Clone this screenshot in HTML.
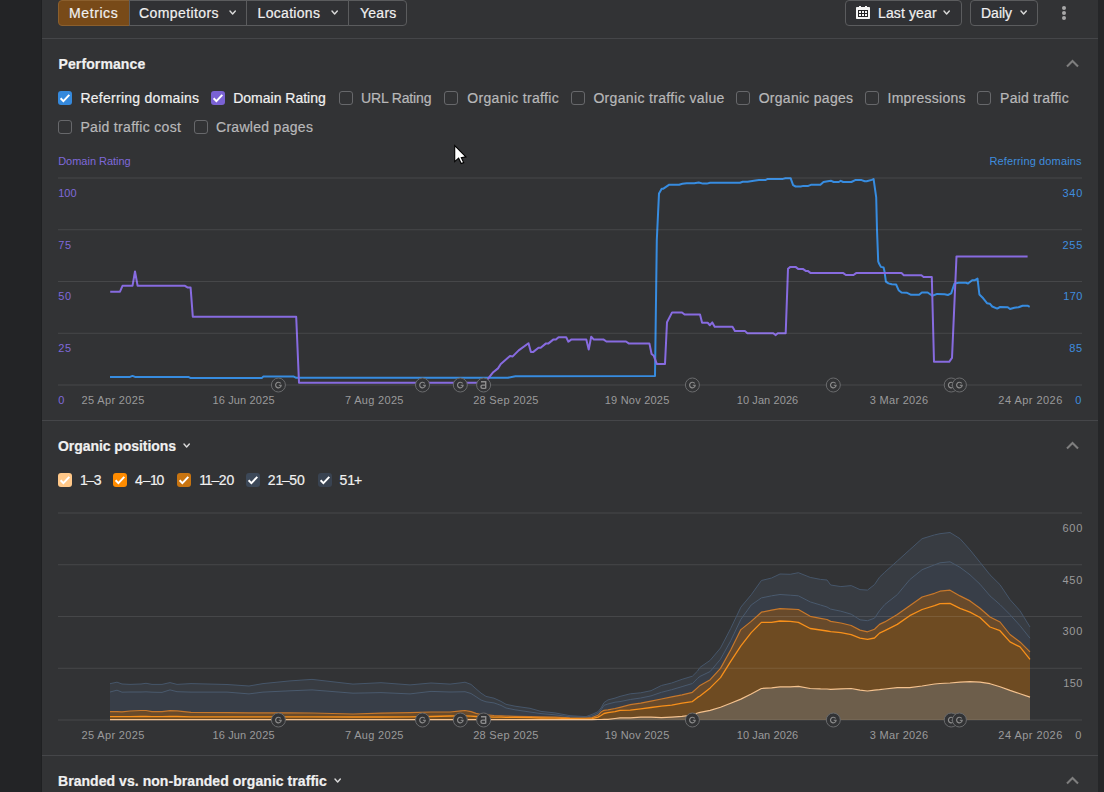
<!DOCTYPE html>
<html><head><meta charset="utf-8"><style>
*{margin:0;padding:0;box-sizing:border-box}
html,body{width:1104px;height:792px;overflow:hidden;background:#232426;font-family:"Liberation Sans",sans-serif}
#main{position:absolute;left:42px;top:0;width:1056px;height:792px;background:#323335}
#rs{position:absolute;left:1098px;top:0;width:6px;height:792px;background:#252628}
#ls{position:absolute;left:41px;top:0;width:1px;height:792px;background:#1f2022}
.t{position:absolute;white-space:nowrap;line-height:1}
.hr{position:absolute;left:42px;width:1056px;height:1px;background:#454649}
.btn{position:absolute;top:0;height:26px;border:1px solid #5b5c5e;background:#303134}
.cb{position:absolute;width:14px;height:14px;border-radius:3px}
.cbu{border:1px solid #67686b}
</style></head>
<body>
<div id="main"></div><div id="ls"></div><div id="rs"></div>
<svg style="position:absolute;left:0;top:0" width="1104" height="792">
<polyline points="110.0,376.9 130.0,376.9 132.5,375.9 135.0,376.9 188.3,376.9 190.3,377.9 262.0,377.9 263.2,376.6 293.8,376.6 296.2,377.8 507.8,377.8 515.4,376.3 655.0,376.1 656.8,240.0 659.0,193.4 661.7,188.7 663.4,188.7 669.3,184.7 679.1,184.7 682.4,183.8 686.7,183.3 694.3,183.3 698.7,182.5 703.0,183.6 706.8,183.6 710.1,182.7 740.0,182.7 742.7,181.7 747.6,181.7 753.8,180.8 758.9,180.1 765.2,180.1 767.8,178.9 783.0,178.9 785.5,178.2 790.6,178.2 793.1,185.2 795.6,186.5 800.7,186.5 803.3,185.9 808.3,185.9 810.9,184.8 820.4,184.8 823.5,182.0 829.3,181.0 831.2,180.8 833.7,182.0 838.8,182.0 840.7,180.8 843.2,182.0 851.4,182.0 855.2,180.1 861.6,180.1 864.8,181.3 866.7,181.3 871.7,179.9 873.6,179.1 876.2,197.3 877.0,230.0 878.2,261.3 879.3,264.1 881.0,266.9 883.6,267.5 884.4,270.9 885.9,281.7 888.4,283.4 891.8,284.3 896.1,284.5 898.6,290.2 901.5,292.5 906.6,292.7 911.1,294.8 919.1,294.8 921.9,292.5 927.6,292.5 932.3,295.8 937.2,293.9 944.6,294.2 947.9,295.0 951.2,293.4 954.5,283.5 958.6,282.7 966.0,282.7 968.0,283.5 972.2,280.2 975.0,280.2 977.5,278.6 979.4,294.5 983.2,298.3 987.0,303.2 989.8,303.7 992.2,306.5 997.2,308.6 1000.1,307.0 1007.8,307.3 1010.0,309.0 1014.4,307.8 1018.5,307.3 1022.6,305.7 1027.6,305.7 1029.7,306.8" fill="none" stroke="#378ce0" stroke-width="2" stroke-linejoin="round"/>
<polyline points="110.2,291.7 120.0,291.7 122.5,285.8 132.5,285.8 135.0,271.5 137.6,285.8 185.0,285.8 187.8,287.6 190.6,287.6 192.8,316.7 296.2,316.7 299.0,382.8 484.5,382.8 487.7,379.2 493.2,372.2 498.0,368.4 500.8,364.0 510.0,355.9 512.7,356.4 518.7,350.4 528.5,343.2 530.9,352.1 533.0,352.1 538.5,347.7 540.7,347.7 546.0,343.4 548.5,343.4 553.2,339.6 555.9,339.6 558.6,337.2 566.2,337.2 568.4,341.7 571.1,339.6 586.3,339.6 588.7,349.6 591.2,336.8 593.9,339.6 603.7,339.6 606.4,341.5 626.0,341.5 628.7,343.4 649.4,343.4 651.6,354.0 653.8,355.8 656.8,363.9 665.0,363.9 667.0,322.2 672.1,312.4 682.0,312.4 684.6,314.6 700.0,314.6 702.1,322.8 707.7,322.8 709.9,325.2 712.3,322.4 714.7,326.7 732.5,326.7 734.9,331.1 745.1,331.1 747.4,333.3 773.3,333.3 775.5,335.1 777.8,333.3 785.7,333.3 788.0,268.8 790.4,266.9 795.5,266.9 798.1,268.9 802.8,268.9 805.7,270.9 807.8,270.9 810.7,273.1 843.3,273.1 845.9,275.0 853.5,275.0 856.1,273.1 901.5,273.1 903.8,275.2 921.4,275.2 923.6,277.0 931.8,277.0 934.0,361.8 949.2,361.8 952.0,357.9 956.5,256.4 1027.6,256.4" fill="none" stroke="#876be0" stroke-width="2" stroke-linejoin="round"/>
<rect x="58" y="177.50" width="1024" height="1" fill="rgba(255,255,255,0.10)"/>
<rect x="58" y="229.25" width="1024" height="1" fill="rgba(255,255,255,0.10)"/>
<rect x="58" y="281.00" width="1024" height="1" fill="rgba(255,255,255,0.10)"/>
<rect x="58" y="332.75" width="1024" height="1" fill="rgba(255,255,255,0.10)"/>
<rect x="58" y="384.50" width="1024" height="1" fill="rgba(255,255,255,0.10)"/>
<polygon points="110.0,683.7 117.0,682.2 122.0,684.0 130.0,684.4 141.0,684.0 146.0,683.3 152.0,684.4 162.0,684.4 170.0,682.6 177.0,684.4 191.0,683.6 227.0,684.5 249.0,686.0 263.0,683.6 290.0,680.9 312.0,679.4 353.0,684.1 381.0,682.7 410.0,684.9 431.0,683.0 450.0,684.1 461.0,682.8 465.0,682.2 471.0,684.4 476.0,688.8 481.0,693.1 486.0,696.4 494.0,698.2 501.0,701.4 506.0,704.3 515.0,706.2 530.0,708.3 541.0,711.4 555.0,712.9 570.0,715.7 586.0,716.6 592.0,714.4 598.0,711.7 601.0,708.0 604.0,702.6 608.0,699.9 615.0,698.1 620.0,696.4 630.3,693.8 640.7,692.8 651.0,690.7 661.4,685.5 671.7,683.0 682.1,679.3 692.4,676.2 697.6,671.0 700.0,667.4 710.2,660.3 720.5,648.0 730.7,628.5 740.9,607.1 751.2,594.8 761.4,580.5 771.6,578.0 780.0,574.0 790.2,574.3 798.4,572.7 810.2,577.4 820.5,579.4 827.0,580.0 830.7,585.0 840.9,586.6 851.2,585.6 860.0,589.6 867.5,590.1 874.5,584.6 879.5,577.2 884.8,572.2 897.3,561.0 909.7,549.8 922.1,538.7 934.6,534.9 940.0,533.7 950.0,532.5 960.0,538.7 970.0,549.9 980.0,562.3 990.0,574.8 1000.0,584.7 1010.0,599.6 1020.0,610.8 1030.0,627.0 1030.0,638.2 1020.0,625.7 1010.0,614.6 1000.0,604.6 990.0,595.9 980.0,584.2 970.0,574.8 960.0,567.3 950.0,561.8 940.0,562.8 934.6,564.8 922.1,569.7 909.7,579.7 897.3,594.6 884.8,604.5 879.5,610.7 874.5,618.2 867.5,620.7 860.0,619.8 851.2,614.2 840.9,611.2 830.7,609.1 827.0,607.0 820.5,605.0 810.2,601.9 798.4,595.8 790.2,595.2 780.0,594.5 771.6,595.8 761.4,597.9 751.2,605.0 740.9,619.3 730.7,640.8 720.5,659.2 710.2,671.5 700.0,676.4 697.6,678.3 692.4,683.5 682.1,686.6 671.7,689.7 661.4,692.3 651.0,695.9 640.7,698.0 630.3,699.5 620.0,701.6 615.0,702.2 608.0,704.0 604.0,705.3 601.0,709.9 598.0,713.3 592.0,716.0 586.0,717.2 570.0,716.8 555.0,714.8 541.0,713.6 530.0,712.0 515.0,709.8 506.0,708.0 501.0,705.4 494.0,702.9 486.0,701.8 481.0,700.0 476.0,696.7 471.0,693.5 465.0,691.7 461.0,691.8 450.0,692.0 431.0,691.4 410.0,693.9 381.0,692.6 353.0,693.2 312.0,689.9 290.0,690.8 263.0,692.1 249.0,693.9 227.0,692.1 191.0,692.1 177.0,691.7 170.0,689.9 162.0,692.4 152.0,692.2 146.0,691.8 141.0,692.0 130.0,692.0 122.0,692.2 117.0,690.2 110.0,692.0" fill="#383c42"/>
<polygon points="110.0,692.0 117.0,690.2 122.0,692.2 130.0,692.0 141.0,692.0 146.0,691.8 152.0,692.2 162.0,692.4 170.0,689.9 177.0,691.7 191.0,692.1 227.0,692.1 249.0,693.9 263.0,692.1 290.0,690.8 312.0,689.9 353.0,693.2 381.0,692.6 410.0,693.9 431.0,691.4 450.0,692.0 461.0,691.8 465.0,691.7 471.0,693.5 476.0,696.7 481.0,700.0 486.0,701.8 494.0,702.9 501.0,705.4 506.0,708.0 515.0,709.8 530.0,712.0 541.0,713.6 555.0,714.8 570.0,716.8 586.0,717.2 592.0,716.0 598.0,713.3 601.0,709.9 604.0,705.3 608.0,704.0 615.0,702.2 620.0,701.6 630.3,699.5 640.7,698.0 651.0,695.9 661.4,692.3 671.7,689.7 682.1,686.6 692.4,683.5 697.6,678.3 700.0,676.4 710.2,671.5 720.5,659.2 730.7,640.8 740.9,619.3 751.2,605.0 761.4,597.9 771.6,595.8 780.0,594.5 790.2,595.2 798.4,595.8 810.2,601.9 820.5,605.0 827.0,607.0 830.7,609.1 840.9,611.2 851.2,614.2 860.0,619.8 867.5,620.7 874.5,618.2 879.5,610.7 884.8,604.5 897.3,594.6 909.7,579.7 922.1,569.7 934.6,564.8 940.0,562.8 950.0,561.8 960.0,567.3 970.0,574.8 980.0,584.2 990.0,595.9 1000.0,604.6 1010.0,614.6 1020.0,625.7 1030.0,638.2 1030.0,651.9 1020.0,641.9 1010.0,634.5 1000.0,622.0 990.0,617.0 980.0,608.3 970.0,600.9 960.0,595.9 950.0,590.2 940.0,591.2 934.6,593.3 922.1,597.0 909.7,605.7 897.3,614.4 884.8,621.9 879.5,624.4 874.5,629.3 867.5,631.8 860.0,630.1 851.2,625.5 840.9,623.0 830.7,621.4 827.0,619.5 820.5,618.3 810.2,616.3 798.4,609.5 790.2,609.1 780.0,608.7 771.6,610.1 761.4,612.2 751.2,621.4 740.9,629.6 730.7,650.0 720.5,668.4 710.2,679.7 700.0,685.4 697.6,687.6 692.4,692.3 682.1,694.9 671.7,696.9 661.4,699.0 651.0,701.1 640.7,703.1 630.3,704.7 620.0,707.3 615.0,708.5 608.0,709.9 604.0,710.3 601.0,712.1 598.0,715.3 592.0,717.6 586.0,718.0 570.0,717.8 555.0,717.1 541.0,716.9 530.0,716.7 515.0,716.3 506.0,716.0 501.0,715.8 494.0,715.5 486.0,714.9 481.0,714.5 476.0,713.4 471.0,711.6 465.0,710.5 461.0,710.9 450.0,712.0 431.0,712.0 410.0,712.6 381.0,713.1 353.0,714.0 312.0,713.0 290.0,712.9 263.0,712.9 249.0,712.9 227.0,712.6 191.0,712.4 177.0,710.9 170.0,710.6 162.0,711.6 152.0,711.6 146.0,710.5 141.0,710.5 130.0,711.0 122.0,711.8 117.0,711.6 110.0,711.6" fill="#383e48"/>
<polygon points="110.0,711.6 117.0,711.6 122.0,711.8 130.0,711.0 141.0,710.5 146.0,710.5 152.0,711.6 162.0,711.6 170.0,710.6 177.0,710.9 191.0,712.4 227.0,712.6 249.0,712.9 263.0,712.9 290.0,712.9 312.0,713.0 353.0,714.0 381.0,713.1 410.0,712.6 431.0,712.0 450.0,712.0 461.0,710.9 465.0,710.5 471.0,711.6 476.0,713.4 481.0,714.5 486.0,714.9 494.0,715.5 501.0,715.8 506.0,716.0 515.0,716.3 530.0,716.7 541.0,716.9 555.0,717.1 570.0,717.8 586.0,718.0 592.0,717.6 598.0,715.3 601.0,712.1 604.0,710.3 608.0,709.9 615.0,708.5 620.0,707.3 630.3,704.7 640.7,703.1 651.0,701.1 661.4,699.0 671.7,696.9 682.1,694.9 692.4,692.3 697.6,687.6 700.0,685.4 710.2,679.7 720.5,668.4 730.7,650.0 740.9,629.6 751.2,621.4 761.4,612.2 771.6,610.1 780.0,608.7 790.2,609.1 798.4,609.5 810.2,616.3 820.5,618.3 827.0,619.5 830.7,621.4 840.9,623.0 851.2,625.5 860.0,630.1 867.5,631.8 874.5,629.3 879.5,624.4 884.8,621.9 897.3,614.4 909.7,605.7 922.1,597.0 934.6,593.3 940.0,591.2 950.0,590.2 960.0,595.9 970.0,600.9 980.0,608.3 990.0,617.0 1000.0,622.0 1010.0,634.5 1020.0,641.9 1030.0,651.9 1030.0,659.3 1020.0,646.9 1010.0,641.9 1000.0,630.7 990.0,627.0 980.0,617.5 970.0,612.1 960.0,608.3 950.0,603.4 940.0,603.7 934.6,605.7 922.1,609.5 909.7,615.7 897.3,624.4 884.8,630.6 879.5,633.1 874.5,638.0 867.5,639.3 860.0,638.1 851.2,634.7 840.9,632.6 830.7,631.6 827.0,631.0 820.5,630.0 810.2,628.5 798.4,622.4 790.2,621.4 780.0,621.0 771.6,622.4 761.4,622.4 751.2,632.6 740.9,645.9 730.7,661.3 720.5,677.6 710.2,687.9 700.0,696.0 697.6,697.4 692.4,701.6 682.1,703.1 671.7,705.2 661.4,706.2 651.0,707.5 640.7,708.8 630.3,710.2 620.0,710.4 615.0,711.7 608.0,712.6 604.0,713.5 601.0,715.5 598.0,717.1 592.0,718.6 586.0,718.8 570.0,718.6 555.0,718.2 541.0,718.0 530.0,717.6 515.0,717.4 506.0,717.3 501.0,717.2 494.0,717.1 486.0,716.9 481.0,716.7 476.0,716.5 471.0,716.2 465.0,715.8 461.0,715.8 450.0,716.0 431.0,716.5 410.0,716.8 381.0,717.0 353.0,717.0 312.0,716.8 290.0,716.8 263.0,716.8 249.0,716.8 227.0,716.8 191.0,716.8 177.0,716.5 170.0,716.5 162.0,716.6 152.0,716.6 146.0,716.5 141.0,716.5 130.0,716.6 122.0,716.6 117.0,716.6 110.0,716.6" fill="#684a2b"/>
<polygon points="110.0,716.6 117.0,716.6 122.0,716.6 130.0,716.6 141.0,716.5 146.0,716.5 152.0,716.6 162.0,716.6 170.0,716.5 177.0,716.5 191.0,716.8 227.0,716.8 249.0,716.8 263.0,716.8 290.0,716.8 312.0,716.8 353.0,717.0 381.0,717.0 410.0,716.8 431.0,716.5 450.0,716.0 461.0,715.8 465.0,715.8 471.0,716.2 476.0,716.5 481.0,716.7 486.0,716.9 494.0,717.1 501.0,717.2 506.0,717.3 515.0,717.4 530.0,717.6 541.0,718.0 555.0,718.2 570.0,718.6 586.0,718.8 592.0,718.6 598.0,717.1 601.0,715.5 604.0,713.5 608.0,712.6 615.0,711.7 620.0,710.4 630.3,710.2 640.7,708.8 651.0,707.5 661.4,706.2 671.7,705.2 682.1,703.1 692.4,701.6 697.6,697.4 700.0,696.0 710.2,687.9 720.5,677.6 730.7,661.3 740.9,645.9 751.2,632.6 761.4,622.4 771.6,622.4 780.0,621.0 790.2,621.4 798.4,622.4 810.2,628.5 820.5,630.0 827.0,631.0 830.7,631.6 840.9,632.6 851.2,634.7 860.0,638.1 867.5,639.3 874.5,638.0 879.5,633.1 884.8,630.6 897.3,624.4 909.7,615.7 922.1,609.5 934.6,605.7 940.0,603.7 950.0,603.4 960.0,608.3 970.0,612.1 980.0,617.5 990.0,627.0 1000.0,630.7 1010.0,641.9 1020.0,646.9 1030.0,659.3 1030.0,697.1 1020.0,693.7 1010.0,690.4 1000.0,686.7 990.0,683.7 980.0,682.2 970.0,681.7 960.0,682.2 950.0,683.0 940.0,683.5 934.6,684.0 922.1,686.0 909.7,687.7 897.3,687.7 884.8,689.0 879.5,689.7 874.5,690.2 867.5,691.0 860.0,690.2 851.2,688.5 840.9,688.9 830.7,689.3 827.0,689.0 820.5,688.9 810.2,688.5 798.4,686.4 790.2,686.9 780.0,686.9 771.6,687.9 761.4,688.5 751.2,694.0 740.9,699.1 730.7,703.2 720.5,707.3 710.2,710.4 700.0,712.4 697.6,713.0 692.4,715.0 682.1,716.4 671.7,717.1 661.4,717.6 651.0,717.1 640.7,717.1 630.3,717.8 620.0,717.8 615.0,718.5 608.0,719.4 604.0,719.4 601.0,719.5 598.0,719.5 592.0,719.6 586.0,719.7 570.0,719.7 555.0,719.7 541.0,719.7 530.0,719.7 515.0,719.7 506.0,719.7 501.0,719.7 494.0,719.7 486.0,719.7 481.0,719.7 476.0,719.7 471.0,719.7 465.0,719.7 461.0,719.7 450.0,719.7 431.0,719.7 410.0,719.7 381.0,719.7 353.0,719.7 312.0,719.7 290.0,719.7 263.0,719.7 249.0,719.7 227.0,719.7 191.0,719.7 177.0,719.7 170.0,719.7 162.0,719.7 152.0,719.7 146.0,719.7 141.0,719.7 130.0,719.7 122.0,719.7 117.0,719.7 110.0,719.7" fill="#6e4b22"/>
<polygon points="110.0,719.7 117.0,719.7 122.0,719.7 130.0,719.7 141.0,719.7 146.0,719.7 152.0,719.7 162.0,719.7 170.0,719.7 177.0,719.7 191.0,719.7 227.0,719.7 249.0,719.7 263.0,719.7 290.0,719.7 312.0,719.7 353.0,719.7 381.0,719.7 410.0,719.7 431.0,719.7 450.0,719.7 461.0,719.7 465.0,719.7 471.0,719.7 476.0,719.7 481.0,719.7 486.0,719.7 494.0,719.7 501.0,719.7 506.0,719.7 515.0,719.7 530.0,719.7 541.0,719.7 555.0,719.7 570.0,719.7 586.0,719.7 592.0,719.6 598.0,719.5 601.0,719.5 604.0,719.4 608.0,719.4 615.0,718.5 620.0,717.8 630.3,717.8 640.7,717.1 651.0,717.1 661.4,717.6 671.7,717.1 682.1,716.4 692.4,715.0 697.6,713.0 700.0,712.4 710.2,710.4 720.5,707.3 730.7,703.2 740.9,699.1 751.2,694.0 761.4,688.5 771.6,687.9 780.0,686.9 790.2,686.9 798.4,686.4 810.2,688.5 820.5,688.9 827.0,689.0 830.7,689.3 840.9,688.9 851.2,688.5 860.0,690.2 867.5,691.0 874.5,690.2 879.5,689.7 884.8,689.0 897.3,687.7 909.7,687.7 922.1,686.0 934.6,684.0 940.0,683.5 950.0,683.0 960.0,682.2 970.0,681.7 980.0,682.2 990.0,683.7 1000.0,686.7 1010.0,690.4 1020.0,693.7 1030.0,697.1 1030.0,720.0 1020.0,720.0 1010.0,720.0 1000.0,720.0 990.0,720.0 980.0,720.0 970.0,720.0 960.0,720.0 950.0,720.0 940.0,720.0 934.6,720.0 922.1,720.0 909.7,720.0 897.3,720.0 884.8,720.0 879.5,720.0 874.5,720.0 867.5,720.0 860.0,720.0 851.2,720.0 840.9,720.0 830.7,720.0 827.0,720.0 820.5,720.0 810.2,720.0 798.4,720.0 790.2,720.0 780.0,720.0 771.6,720.0 761.4,720.0 751.2,720.0 740.9,720.0 730.7,720.0 720.5,720.0 710.2,720.0 700.0,720.0 697.6,720.0 692.4,720.0 682.1,720.0 671.7,720.0 661.4,720.0 651.0,720.0 640.7,720.0 630.3,720.0 620.0,720.0 615.0,720.0 608.0,720.0 604.0,720.0 601.0,720.0 598.0,720.0 592.0,720.0 586.0,720.0 570.0,720.0 555.0,720.0 541.0,720.0 530.0,720.0 515.0,720.0 506.0,720.0 501.0,720.0 494.0,720.0 486.0,720.0 481.0,720.0 476.0,720.0 471.0,720.0 465.0,720.0 461.0,720.0 450.0,720.0 431.0,720.0 410.0,720.0 381.0,720.0 353.0,720.0 312.0,720.0 290.0,720.0 263.0,720.0 249.0,720.0 227.0,720.0 191.0,720.0 177.0,720.0 170.0,720.0 162.0,720.0 152.0,720.0 146.0,720.0 141.0,720.0 130.0,720.0 122.0,720.0 117.0,720.0 110.0,720.0" fill="#6d5e4b"/>
<rect x="58" y="512.50" width="1024" height="1" fill="rgba(255,255,255,0.10)"/>
<rect x="58" y="564.25" width="1024" height="1" fill="rgba(255,255,255,0.10)"/>
<rect x="58" y="616.00" width="1024" height="1" fill="rgba(255,255,255,0.10)"/>
<rect x="58" y="667.75" width="1024" height="1" fill="rgba(255,255,255,0.10)"/>
<rect x="58" y="719.50" width="1024" height="1" fill="rgba(255,255,255,0.10)"/>
<polyline points="110.0,683.7 117.0,682.2 122.0,684.0 130.0,684.4 141.0,684.0 146.0,683.3 152.0,684.4 162.0,684.4 170.0,682.6 177.0,684.4 191.0,683.6 227.0,684.5 249.0,686.0 263.0,683.6 290.0,680.9 312.0,679.4 353.0,684.1 381.0,682.7 410.0,684.9 431.0,683.0 450.0,684.1 461.0,682.8 465.0,682.2 471.0,684.4 476.0,688.8 481.0,693.1 486.0,696.4 494.0,698.2 501.0,701.4 506.0,704.3 515.0,706.2 530.0,708.3 541.0,711.4 555.0,712.9 570.0,715.7 586.0,716.6 592.0,714.4 598.0,711.7 601.0,708.0 604.0,702.6 608.0,699.9 615.0,698.1 620.0,696.4 630.3,693.8 640.7,692.8 651.0,690.7 661.4,685.5 671.7,683.0 682.1,679.3 692.4,676.2 697.6,671.0 700.0,667.4 710.2,660.3 720.5,648.0 730.7,628.5 740.9,607.1 751.2,594.8 761.4,580.5 771.6,578.0 780.0,574.0 790.2,574.3 798.4,572.7 810.2,577.4 820.5,579.4 827.0,580.0 830.7,585.0 840.9,586.6 851.2,585.6 860.0,589.6 867.5,590.1 874.5,584.6 879.5,577.2 884.8,572.2 897.3,561.0 909.7,549.8 922.1,538.7 934.6,534.9 940.0,533.7 950.0,532.5 960.0,538.7 970.0,549.9 980.0,562.3 990.0,574.8 1000.0,584.7 1010.0,599.6 1020.0,610.8 1030.0,627.0" fill="none" stroke="#46566a" stroke-width="1.0" stroke-linejoin="round"/>
<polyline points="110.0,692.0 117.0,690.2 122.0,692.2 130.0,692.0 141.0,692.0 146.0,691.8 152.0,692.2 162.0,692.4 170.0,689.9 177.0,691.7 191.0,692.1 227.0,692.1 249.0,693.9 263.0,692.1 290.0,690.8 312.0,689.9 353.0,693.2 381.0,692.6 410.0,693.9 431.0,691.4 450.0,692.0 461.0,691.8 465.0,691.7 471.0,693.5 476.0,696.7 481.0,700.0 486.0,701.8 494.0,702.9 501.0,705.4 506.0,708.0 515.0,709.8 530.0,712.0 541.0,713.6 555.0,714.8 570.0,716.8 586.0,717.2 592.0,716.0 598.0,713.3 601.0,709.9 604.0,705.3 608.0,704.0 615.0,702.2 620.0,701.6 630.3,699.5 640.7,698.0 651.0,695.9 661.4,692.3 671.7,689.7 682.1,686.6 692.4,683.5 697.6,678.3 700.0,676.4 710.2,671.5 720.5,659.2 730.7,640.8 740.9,619.3 751.2,605.0 761.4,597.9 771.6,595.8 780.0,594.5 790.2,595.2 798.4,595.8 810.2,601.9 820.5,605.0 827.0,607.0 830.7,609.1 840.9,611.2 851.2,614.2 860.0,619.8 867.5,620.7 874.5,618.2 879.5,610.7 884.8,604.5 897.3,594.6 909.7,579.7 922.1,569.7 934.6,564.8 940.0,562.8 950.0,561.8 960.0,567.3 970.0,574.8 980.0,584.2 990.0,595.9 1000.0,604.6 1010.0,614.6 1020.0,625.7 1030.0,638.2" fill="none" stroke="#4a5a6e" stroke-width="1.0" stroke-linejoin="round"/>
<polyline points="110.0,711.6 117.0,711.6 122.0,711.8 130.0,711.0 141.0,710.5 146.0,710.5 152.0,711.6 162.0,711.6 170.0,710.6 177.0,710.9 191.0,712.4 227.0,712.6 249.0,712.9 263.0,712.9 290.0,712.9 312.0,713.0 353.0,714.0 381.0,713.1 410.0,712.6 431.0,712.0 450.0,712.0 461.0,710.9 465.0,710.5 471.0,711.6 476.0,713.4 481.0,714.5 486.0,714.9 494.0,715.5 501.0,715.8 506.0,716.0 515.0,716.3 530.0,716.7 541.0,716.9 555.0,717.1 570.0,717.8 586.0,718.0 592.0,717.6 598.0,715.3 601.0,712.1 604.0,710.3 608.0,709.9 615.0,708.5 620.0,707.3 630.3,704.7 640.7,703.1 651.0,701.1 661.4,699.0 671.7,696.9 682.1,694.9 692.4,692.3 697.6,687.6 700.0,685.4 710.2,679.7 720.5,668.4 730.7,650.0 740.9,629.6 751.2,621.4 761.4,612.2 771.6,610.1 780.0,608.7 790.2,609.1 798.4,609.5 810.2,616.3 820.5,618.3 827.0,619.5 830.7,621.4 840.9,623.0 851.2,625.5 860.0,630.1 867.5,631.8 874.5,629.3 879.5,624.4 884.8,621.9 897.3,614.4 909.7,605.7 922.1,597.0 934.6,593.3 940.0,591.2 950.0,590.2 960.0,595.9 970.0,600.9 980.0,608.3 990.0,617.0 1000.0,622.0 1010.0,634.5 1020.0,641.9 1030.0,651.9" fill="none" stroke="#c8782a" stroke-width="1.2" stroke-linejoin="round"/>
<polyline points="110.0,716.6 117.0,716.6 122.0,716.6 130.0,716.6 141.0,716.5 146.0,716.5 152.0,716.6 162.0,716.6 170.0,716.5 177.0,716.5 191.0,716.8 227.0,716.8 249.0,716.8 263.0,716.8 290.0,716.8 312.0,716.8 353.0,717.0 381.0,717.0 410.0,716.8 431.0,716.5 450.0,716.0 461.0,715.8 465.0,715.8 471.0,716.2 476.0,716.5 481.0,716.7 486.0,716.9 494.0,717.1 501.0,717.2 506.0,717.3 515.0,717.4 530.0,717.6 541.0,718.0 555.0,718.2 570.0,718.6 586.0,718.8 592.0,718.6 598.0,717.1 601.0,715.5 604.0,713.5 608.0,712.6 615.0,711.7 620.0,710.4 630.3,710.2 640.7,708.8 651.0,707.5 661.4,706.2 671.7,705.2 682.1,703.1 692.4,701.6 697.6,697.4 700.0,696.0 710.2,687.9 720.5,677.6 730.7,661.3 740.9,645.9 751.2,632.6 761.4,622.4 771.6,622.4 780.0,621.0 790.2,621.4 798.4,622.4 810.2,628.5 820.5,630.0 827.0,631.0 830.7,631.6 840.9,632.6 851.2,634.7 860.0,638.1 867.5,639.3 874.5,638.0 879.5,633.1 884.8,630.6 897.3,624.4 909.7,615.7 922.1,609.5 934.6,605.7 940.0,603.7 950.0,603.4 960.0,608.3 970.0,612.1 980.0,617.5 990.0,627.0 1000.0,630.7 1010.0,641.9 1020.0,646.9 1030.0,659.3" fill="none" stroke="#f8901a" stroke-width="1.3" stroke-linejoin="round"/>
<polyline points="110.0,719.7 117.0,719.7 122.0,719.7 130.0,719.7 141.0,719.7 146.0,719.7 152.0,719.7 162.0,719.7 170.0,719.7 177.0,719.7 191.0,719.7 227.0,719.7 249.0,719.7 263.0,719.7 290.0,719.7 312.0,719.7 353.0,719.7 381.0,719.7 410.0,719.7 431.0,719.7 450.0,719.7 461.0,719.7 465.0,719.7 471.0,719.7 476.0,719.7 481.0,719.7 486.0,719.7 494.0,719.7 501.0,719.7 506.0,719.7 515.0,719.7 530.0,719.7 541.0,719.7 555.0,719.7 570.0,719.7 586.0,719.7 592.0,719.6 598.0,719.5 601.0,719.5 604.0,719.4 608.0,719.4 615.0,718.5 620.0,717.8 630.3,717.8 640.7,717.1 651.0,717.1 661.4,717.6 671.7,717.1 682.1,716.4 692.4,715.0 697.6,713.0 700.0,712.4 710.2,710.4 720.5,707.3 730.7,703.2 740.9,699.1 751.2,694.0 761.4,688.5 771.6,687.9 780.0,686.9 790.2,686.9 798.4,686.4 810.2,688.5 820.5,688.9 827.0,689.0 830.7,689.3 840.9,688.9 851.2,688.5 860.0,690.2 867.5,691.0 874.5,690.2 879.5,689.7 884.8,689.0 897.3,687.7 909.7,687.7 922.1,686.0 934.6,684.0 940.0,683.5 950.0,683.0 960.0,682.2 970.0,681.7 980.0,682.2 990.0,683.7 1000.0,686.7 1010.0,690.4 1020.0,693.7 1030.0,697.1" fill="none" stroke="#f5c28e" stroke-width="1.2" stroke-linejoin="round"/>
<circle cx="278.4" cy="385" r="7" fill="#323335" stroke="#6a6b6d" stroke-width="1"/>
<path d="M280.70 383.40 A2.8 2.8 0 1 0 281.20 385.20 L278.80 385.20" fill="none" stroke="#8c8c8c" stroke-width="1.15"/>
<circle cx="422.5" cy="385" r="7" fill="#323335" stroke="#6a6b6d" stroke-width="1"/>
<path d="M424.80 383.40 A2.8 2.8 0 1 0 425.30 385.20 L422.90 385.20" fill="none" stroke="#8c8c8c" stroke-width="1.15"/>
<circle cx="460.3" cy="385" r="7" fill="#323335" stroke="#6a6b6d" stroke-width="1"/>
<path d="M462.60 383.40 A2.8 2.8 0 1 0 463.10 385.20 L460.70 385.20" fill="none" stroke="#8c8c8c" stroke-width="1.15"/>
<circle cx="483.6" cy="385" r="7" fill="#323335" stroke="#6a6b6d" stroke-width="1"/>
<path d="M481.00 381.70 H485.70 V388.50 M485.70 385.10 H482.60 A1.65 1.65 0 0 0 482.60 388.40 H485.70" fill="none" stroke="#8e8e8e" stroke-width="1.4"/>
<circle cx="692.4" cy="385" r="7" fill="#323335" stroke="#6a6b6d" stroke-width="1"/>
<path d="M694.70 383.40 A2.8 2.8 0 1 0 695.20 385.20 L692.80 385.20" fill="none" stroke="#8c8c8c" stroke-width="1.15"/>
<circle cx="833.3" cy="385" r="7" fill="#323335" stroke="#6a6b6d" stroke-width="1"/>
<path d="M835.60 383.40 A2.8 2.8 0 1 0 836.10 385.20 L833.70 385.20" fill="none" stroke="#8c8c8c" stroke-width="1.15"/>
<circle cx="951.2" cy="385" r="7" fill="#323335" stroke="#6a6b6d" stroke-width="1"/>
<path d="M953.50 383.40 A2.8 2.8 0 1 0 954.00 385.20 L951.60 385.20" fill="none" stroke="#8c8c8c" stroke-width="1.15"/>
<circle cx="959.4" cy="385" r="7" fill="#323335" stroke="#6a6b6d" stroke-width="1"/>
<path d="M961.70 383.40 A2.8 2.8 0 1 0 962.20 385.20 L959.80 385.20" fill="none" stroke="#8c8c8c" stroke-width="1.15"/>
<circle cx="278.4" cy="720" r="7" fill="#323335" stroke="#6a6b6d" stroke-width="1"/>
<path d="M280.70 718.40 A2.8 2.8 0 1 0 281.20 720.20 L278.80 720.20" fill="none" stroke="#8c8c8c" stroke-width="1.15"/>
<circle cx="422.5" cy="720" r="7" fill="#323335" stroke="#6a6b6d" stroke-width="1"/>
<path d="M424.80 718.40 A2.8 2.8 0 1 0 425.30 720.20 L422.90 720.20" fill="none" stroke="#8c8c8c" stroke-width="1.15"/>
<circle cx="460.3" cy="720" r="7" fill="#323335" stroke="#6a6b6d" stroke-width="1"/>
<path d="M462.60 718.40 A2.8 2.8 0 1 0 463.10 720.20 L460.70 720.20" fill="none" stroke="#8c8c8c" stroke-width="1.15"/>
<circle cx="483.6" cy="720" r="7" fill="#323335" stroke="#6a6b6d" stroke-width="1"/>
<path d="M481.00 716.70 H485.70 V723.50 M485.70 720.10 H482.60 A1.65 1.65 0 0 0 482.60 723.40 H485.70" fill="none" stroke="#8e8e8e" stroke-width="1.4"/>
<circle cx="692.4" cy="720" r="7" fill="#323335" stroke="#6a6b6d" stroke-width="1"/>
<path d="M694.70 718.40 A2.8 2.8 0 1 0 695.20 720.20 L692.80 720.20" fill="none" stroke="#8c8c8c" stroke-width="1.15"/>
<circle cx="833.3" cy="720" r="7" fill="#323335" stroke="#6a6b6d" stroke-width="1"/>
<path d="M835.60 718.40 A2.8 2.8 0 1 0 836.10 720.20 L833.70 720.20" fill="none" stroke="#8c8c8c" stroke-width="1.15"/>
<circle cx="951.2" cy="720" r="7" fill="#323335" stroke="#6a6b6d" stroke-width="1"/>
<path d="M953.50 718.40 A2.8 2.8 0 1 0 954.00 720.20 L951.60 720.20" fill="none" stroke="#8c8c8c" stroke-width="1.15"/>
<circle cx="959.4" cy="720" r="7" fill="#323335" stroke="#6a6b6d" stroke-width="1"/>
<path d="M961.70 718.40 A2.8 2.8 0 1 0 962.20 720.20 L959.80 720.20" fill="none" stroke="#8c8c8c" stroke-width="1.15"/>
</svg>
<div class="btn" style="left:58px;width:72px;border-radius:4px 0 0 4px;background:#784a18;border-color:#8b5f2d"></div><div class="btn" style="left:129px;width:118px;border-radius:0"></div><div class="btn" style="left:246px;width:103px;border-radius:0"></div><div class="btn" style="left:348px;width:59px;border-radius:0 4px 4px 0"></div><div class="t" style="left:69.10px;top:5.95px;font-size:14px;color:#f0f0f0;font-weight:400;letter-spacing:0.583px;-webkit-text-stroke:0.2px currentColor;">Metrics</div><div class="t" style="left:139.00px;top:5.95px;font-size:14px;color:#f0f0f0;font-weight:400;letter-spacing:0.400px;-webkit-text-stroke:0.2px currentColor;">Competitors</div><svg style="position:absolute;left:228.75px;top:10.20px" width="7.3" height="5"><path d="M1 1 L3.65 4 L6.3 1" fill="none" stroke="#dadada" stroke-width="1.4" stroke-linecap="round" stroke-linejoin="round"/></svg><div class="t" style="left:257.60px;top:5.95px;font-size:14px;color:#f0f0f0;font-weight:400;letter-spacing:0.300px;-webkit-text-stroke:0.2px currentColor;">Locations</div><svg style="position:absolute;left:330.95px;top:10.20px" width="7.3" height="5"><path d="M1 1 L3.65 4 L6.3 1" fill="none" stroke="#dadada" stroke-width="1.4" stroke-linecap="round" stroke-linejoin="round"/></svg><div class="t" style="left:360.00px;top:5.95px;font-size:14px;color:#f0f0f0;font-weight:400;letter-spacing:0.250px;-webkit-text-stroke:0.2px currentColor;">Years</div><div class="btn" style="left:845px;width:116.5px;border-radius:4px"></div><div class="t" style="left:878.00px;top:5.95px;font-size:14px;color:#f0f0f0;font-weight:400;letter-spacing:0.125px;-webkit-text-stroke:0.2px currentColor;">Last year</div><svg style="position:absolute;left:943.45px;top:10.20px" width="7.3" height="5"><path d="M1 1 L3.65 4 L6.3 1" fill="none" stroke="#dadada" stroke-width="1.4" stroke-linecap="round" stroke-linejoin="round"/></svg><div class="btn" style="left:970px;width:68px;border-radius:4px"></div><div class="t" style="left:981.00px;top:5.95px;font-size:14px;color:#f0f0f0;font-weight:400;letter-spacing:0.000px;-webkit-text-stroke:0.2px currentColor;">Daily</div><svg style="position:absolute;left:1019.65px;top:10.20px" width="7.3" height="5"><path d="M1 1 L3.65 4 L6.3 1" fill="none" stroke="#dadada" stroke-width="1.4" stroke-linecap="round" stroke-linejoin="round"/></svg><svg style="position:absolute;left:856px;top:5px" width="14" height="15"><rect x="0" y="2" width="14" height="12" rx="0.8" fill="#f4f4f4"/><rect x="3" y="1" width="2" height="2" fill="#f4f4f4"/><rect x="9" y="1" width="2" height="2" fill="#f4f4f4"/><rect x="2" y="5" width="10" height="7" fill="#222224"/><g fill="#f4f4f4"><rect x="3" y="6" width="2" height="2"/><rect x="6" y="6" width="2" height="2"/><rect x="9" y="6" width="2" height="2"/><rect x="3" y="9" width="2" height="2"/><rect x="6" y="9" width="2" height="2"/><rect x="9" y="9" width="2" height="2"/></g></svg><div style="position:absolute;left:1061.5px;top:5.9px;width:4.2px;height:4.2px;border-radius:50%;background:#a8a8a8"></div><div style="position:absolute;left:1061.5px;top:10.9px;width:4.2px;height:4.2px;border-radius:50%;background:#a8a8a8"></div><div style="position:absolute;left:1061.5px;top:15.9px;width:4.2px;height:4.2px;border-radius:50%;background:#a8a8a8"></div><div class="hr" style="top:38px"></div><div class="t" style="left:58.50px;top:57.05px;font-size:14px;color:#f0f0f0;font-weight:700;letter-spacing:0.110px;-webkit-text-stroke:0.2px currentColor;">Performance</div><svg style="position:absolute;left:1065.40px;top:58.50px" width="15" height="9.4"><path d="M2 7.4 L7.5 2 L13 7.4" fill="none" stroke="#7e7e7e" stroke-width="2.1"/></svg><div class="cb" style="left:58px;top:91px;background:#3589dc"><svg width="14" height="14" style="position:absolute;left:0;top:0"><path d="M2.6 7.3 L5.4 10.1 L11.3 3.9" fill="none" stroke="#fff" stroke-width="2"/></svg></div><div class="t" style="left:80.40px;top:90.95px;font-size:14px;color:#f0f0f0;font-weight:400;letter-spacing:0.269px;-webkit-text-stroke:0.2px currentColor;">Referring domains</div><div class="cb" style="left:211px;top:91px;background:#7a62d4"><svg width="14" height="14" style="position:absolute;left:0;top:0"><path d="M2.6 7.3 L5.4 10.1 L11.3 3.9" fill="none" stroke="#fff" stroke-width="2"/></svg></div><div class="t" style="left:233.20px;top:90.95px;font-size:14px;color:#f0f0f0;font-weight:400;letter-spacing:0.000px;-webkit-text-stroke:0.2px currentColor;">Domain Rating</div><div class="cb cbu" style="left:339px;top:91px"></div><div class="t" style="left:361.00px;top:90.95px;font-size:14px;color:#b8b8b9;font-weight:400;letter-spacing:-0.156px;-webkit-text-stroke:0.2px currentColor;">URL Rating</div><div class="cb cbu" style="left:444px;top:91px"></div><div class="t" style="left:467.20px;top:90.95px;font-size:14px;color:#b8b8b9;font-weight:400;letter-spacing:0.329px;-webkit-text-stroke:0.2px currentColor;">Organic traffic</div><div class="cb cbu" style="left:571px;top:91px"></div><div class="t" style="left:593.40px;top:90.95px;font-size:14px;color:#b8b8b9;font-weight:400;letter-spacing:0.335px;-webkit-text-stroke:0.2px currentColor;">Organic traffic value</div><div class="cb cbu" style="left:736px;top:91px"></div><div class="t" style="left:758.70px;top:90.95px;font-size:14px;color:#b8b8b9;font-weight:400;letter-spacing:0.275px;-webkit-text-stroke:0.2px currentColor;">Organic pages</div><div class="cb cbu" style="left:865px;top:91px"></div><div class="t" style="left:887.50px;top:90.95px;font-size:14px;color:#b8b8b9;font-weight:400;letter-spacing:0.250px;-webkit-text-stroke:0.2px currentColor;">Impressions</div><div class="cb cbu" style="left:977px;top:91px"></div><div class="t" style="left:1000.10px;top:90.95px;font-size:14px;color:#b8b8b9;font-weight:400;letter-spacing:0.245px;-webkit-text-stroke:0.2px currentColor;">Paid traffic</div><div class="cb cbu" style="left:58px;top:120px"></div><div class="t" style="left:80.40px;top:119.95px;font-size:14px;color:#b8b8b9;font-weight:400;letter-spacing:0.312px;-webkit-text-stroke:0.2px currentColor;">Paid traffic cost</div><div class="cb cbu" style="left:194px;top:120px"></div><div class="t" style="left:216.00px;top:119.95px;font-size:14px;color:#b8b8b9;font-weight:400;letter-spacing:0.292px;-webkit-text-stroke:0.2px currentColor;">Crawled pages</div><div class="t" style="left:58.20px;top:155.69px;font-size:11px;color:#7f69da;font-weight:400;letter-spacing:-0.017px;">Domain Rating</div><div class="t" style="left:989.50px;top:155.69px;font-size:11px;color:#3f8ddf;font-weight:400;letter-spacing:0.131px;">Referring domains</div><div class="t" style="left:58.20px;top:187.89px;font-size:11px;color:#7f69da;font-weight:400;letter-spacing:0.000px;">100</div><div class="t" style="left:1062.40px;top:187.89px;font-size:11px;color:#3f8ddf;font-weight:400;letter-spacing:0.750px;">340</div><div class="t" style="left:58.20px;top:239.89px;font-size:11px;color:#7f69da;font-weight:400;letter-spacing:0.750px;">75</div><div class="t" style="left:1062.40px;top:239.89px;font-size:11px;color:#3f8ddf;font-weight:400;letter-spacing:0.750px;">255</div><div class="t" style="left:58.20px;top:290.89px;font-size:11px;color:#7f69da;font-weight:400;letter-spacing:0.750px;">50</div><div class="t" style="left:1063.30px;top:290.89px;font-size:11px;color:#3f8ddf;font-weight:400;letter-spacing:0.300px;">170</div><div class="t" style="left:58.20px;top:342.89px;font-size:11px;color:#7f69da;font-weight:400;letter-spacing:0.750px;">25</div><div class="t" style="left:1069.15px;top:342.89px;font-size:11px;color:#3f8ddf;font-weight:400;letter-spacing:0.750px;">85</div><div class="t" style="left:58.20px;top:394.89px;font-size:11px;color:#7f69da;font-weight:400;letter-spacing:0.750px;">0</div><div class="t" style="left:1075.15px;top:394.89px;font-size:11px;color:#3f8ddf;font-weight:400;letter-spacing:0.750px;">0</div><div class="t" style="left:81.40px;top:394.89px;font-size:11px;color:#9a9a9b;font-weight:400;letter-spacing:0.370px;">25 Apr 2025</div><div class="t" style="left:212.40px;top:394.89px;font-size:11px;color:#9a9a9b;font-weight:400;letter-spacing:0.160px;">16 Jun 2025</div><div class="t" style="left:345.00px;top:394.89px;font-size:11px;color:#9a9a9b;font-weight:400;letter-spacing:0.311px;">7 Aug 2025</div><div class="t" style="left:473.20px;top:394.89px;font-size:11px;color:#9a9a9b;font-weight:400;letter-spacing:0.290px;">28 Sep 2025</div><div class="t" style="left:604.70px;top:394.89px;font-size:11px;color:#9a9a9b;font-weight:400;letter-spacing:0.220px;">19 Nov 2025</div><div class="t" style="left:736.70px;top:394.89px;font-size:11px;color:#9a9a9b;font-weight:400;letter-spacing:0.100px;">10 Jan 2026</div><div class="t" style="left:869.80px;top:394.89px;font-size:11px;color:#9a9a9b;font-weight:400;letter-spacing:0.289px;">3 Mar 2026</div><div class="t" style="left:998.30px;top:394.89px;font-size:11px;color:#9a9a9b;font-weight:400;letter-spacing:0.470px;">24 Apr 2026</div><div class="t" style="left:81.40px;top:729.89px;font-size:11px;color:#9a9a9b;font-weight:400;letter-spacing:0.370px;">25 Apr 2025</div><div class="t" style="left:212.40px;top:729.89px;font-size:11px;color:#9a9a9b;font-weight:400;letter-spacing:0.160px;">16 Jun 2025</div><div class="t" style="left:345.00px;top:729.89px;font-size:11px;color:#9a9a9b;font-weight:400;letter-spacing:0.311px;">7 Aug 2025</div><div class="t" style="left:473.20px;top:729.89px;font-size:11px;color:#9a9a9b;font-weight:400;letter-spacing:0.290px;">28 Sep 2025</div><div class="t" style="left:604.70px;top:729.89px;font-size:11px;color:#9a9a9b;font-weight:400;letter-spacing:0.220px;">19 Nov 2025</div><div class="t" style="left:736.70px;top:729.89px;font-size:11px;color:#9a9a9b;font-weight:400;letter-spacing:0.100px;">10 Jan 2026</div><div class="t" style="left:869.80px;top:729.89px;font-size:11px;color:#9a9a9b;font-weight:400;letter-spacing:0.289px;">3 Mar 2026</div><div class="t" style="left:998.30px;top:729.89px;font-size:11px;color:#9a9a9b;font-weight:400;letter-spacing:0.470px;">24 Apr 2026</div><div class="hr" style="top:420px"></div><div class="t" style="left:58.00px;top:438.95px;font-size:14px;color:#f0f0f0;font-weight:700;letter-spacing:-0.062px;-webkit-text-stroke:0.2px currentColor;">Organic positions</div><svg style="position:absolute;left:182.65px;top:443.10px" width="7.3" height="5"><path d="M1 1 L3.65 4 L6.3 1" fill="none" stroke="#dadada" stroke-width="1.4" stroke-linecap="round" stroke-linejoin="round"/></svg><svg style="position:absolute;left:1065.40px;top:440.50px" width="15" height="9.4"><path d="M2 7.4 L7.5 2 L13 7.4" fill="none" stroke="#7e7e7e" stroke-width="2.1"/></svg><div class="cb" style="left:58px;top:473px;background:#ffc889"><svg width="14" height="14" style="position:absolute;left:0;top:0"><path d="M2.6 7.3 L5.4 10.1 L11.3 3.9" fill="none" stroke="#fff" stroke-width="2"/></svg></div><div class="t" style="left:79.90px;top:472.85px;font-size:14px;color:#f0f0f0;-webkit-text-stroke:0.2px currentColor"><span style="letter-spacing:-1.2px">1</span><span style="letter-spacing:-0.6px">–</span>3</div><div class="cb" style="left:113.4px;top:473px;background:#ff8c00"><svg width="14" height="14" style="position:absolute;left:0;top:0"><path d="M2.6 7.3 L5.4 10.1 L11.3 3.9" fill="none" stroke="#fff" stroke-width="2"/></svg></div><div class="t" style="left:135.00px;top:472.85px;font-size:14px;color:#f0f0f0;-webkit-text-stroke:0.2px currentColor">4<span style="letter-spacing:-0.6px">–</span><span style="letter-spacing:-1.2px">1</span>0</div><div class="cb" style="left:177px;top:473px;background:#c87410"><svg width="14" height="14" style="position:absolute;left:0;top:0"><path d="M2.6 7.3 L5.4 10.1 L11.3 3.9" fill="none" stroke="#fff" stroke-width="2"/></svg></div><div class="t" style="left:199.30px;top:472.85px;font-size:14px;color:#f0f0f0;-webkit-text-stroke:0.2px currentColor"><span style="letter-spacing:-1.2px">1</span><span style="letter-spacing:-1.2px">1</span><span style="letter-spacing:-0.6px">–</span>20</div><div class="cb" style="left:246px;top:473px;background:#3c4858"><svg width="14" height="14" style="position:absolute;left:0;top:0"><path d="M2.6 7.3 L5.4 10.1 L11.3 3.9" fill="none" stroke="#fff" stroke-width="2"/></svg></div><div class="t" style="left:267.70px;top:472.85px;font-size:14px;color:#f0f0f0;-webkit-text-stroke:0.2px currentColor">2<span style="letter-spacing:-1.2px">1</span><span style="letter-spacing:-0.6px">–</span>50</div><div class="cb" style="left:318px;top:473px;background:#394351"><svg width="14" height="14" style="position:absolute;left:0;top:0"><path d="M2.6 7.3 L5.4 10.1 L11.3 3.9" fill="none" stroke="#fff" stroke-width="2"/></svg></div><div class="t" style="left:339.50px;top:472.85px;font-size:14px;color:#f0f0f0;-webkit-text-stroke:0.2px currentColor">5<span style="letter-spacing:-1.2px">1</span>+</div><div class="t" style="left:1062.40px;top:522.89px;font-size:11px;color:#9a9a9b;font-weight:400;letter-spacing:0.750px;">600</div><div class="t" style="left:1062.40px;top:574.89px;font-size:11px;color:#9a9a9b;font-weight:400;letter-spacing:0.750px;">450</div><div class="t" style="left:1062.40px;top:625.89px;font-size:11px;color:#9a9a9b;font-weight:400;letter-spacing:0.750px;">300</div><div class="t" style="left:1063.30px;top:677.89px;font-size:11px;color:#9a9a9b;font-weight:400;letter-spacing:0.300px;">150</div><div class="t" style="left:1075.15px;top:729.89px;font-size:11px;color:#9a9a9b;font-weight:400;letter-spacing:0.750px;">0</div><div class="hr" style="top:755px"></div><div class="t" style="left:58.00px;top:773.95px;font-size:14px;color:#f0f0f0;font-weight:700;letter-spacing:0.053px;-webkit-text-stroke:0.2px currentColor;">Branded vs. non-branded organic traffic</div><svg style="position:absolute;left:333.65px;top:777.70px" width="7.3" height="5"><path d="M1 1 L3.65 4 L6.3 1" fill="none" stroke="#dadada" stroke-width="1.4" stroke-linecap="round" stroke-linejoin="round"/></svg><svg style="position:absolute;left:1065.40px;top:775.50px" width="15" height="9.4"><path d="M2 7.4 L7.5 2 L13 7.4" fill="none" stroke="#7e7e7e" stroke-width="2.1"/></svg><svg style="position:absolute;left:0;top:0" width="1104" height="792"><path d="M454.70 145.60 L454.70 161.60 L458.60 158.20 L461.20 163.50 L463.70 162.60 L461.30 157.60 L465.90 156.80 Z" fill="#ffffff" stroke="#000000" stroke-width="1.1" stroke-linejoin="miter"/></svg>
</body></html>
